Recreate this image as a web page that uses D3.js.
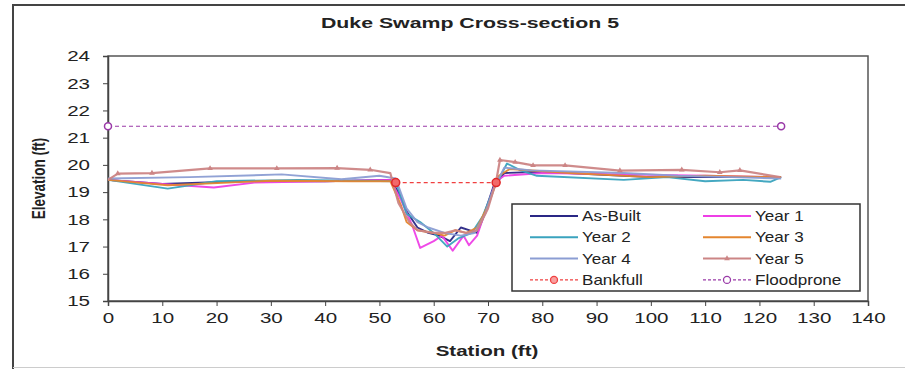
<!DOCTYPE html>
<html>
<head>
<meta charset="utf-8">
<script src="https://cdn.jsdelivr.net/npm/d3@7"></script>
<style>
  body { margin: 0; background: #fff; }
  svg { font-family: "Liberation Sans", Arial, sans-serif; }
</style>
</head>
<body>
<div id="chart"></div>
<script>
// Survey data (station ft, elevation ft)
const asBuilt = [[0,19.45],[10,19.3],[25,19.4],[40,19.4],[52,19.45],[53.5,19.0],[55,18.3],[57,17.7],[59,17.5],[61,17.4],[63,17.2],[65,17.7],[66.5,17.6],[68,17.5],[69,18.0],[71,19.2],[73,19.7],[80,19.75],[95,19.6],[100,19.55],[110,19.55],[124,19.55]];
const year1 = [[0,19.45],[10,19.3],[19.5,19.17],[27,19.35],[40,19.4],[52,19.45],[54,18.7],[56,17.8],[57.5,16.95],[60,17.2],[61.5,17.4],[63.5,16.85],[65.5,17.4],[66.5,17.05],[68,17.4],[69.5,18.3],[71.5,19.4],[73,19.6],[80,19.7],[95,19.65],[110,19.6],[124,19.55]];
const year2 = [[0,19.45],[11,19.13],[20,19.4],[35,19.45],[53,19.4],[55,18.2],[57.5,17.9],[60,17.5],[62.5,17.0],[64.5,17.3],[67,17.5],[69,18.1],[71,19.1],[73.5,20.05],[76,19.8],[79,19.6],[95,19.45],[103,19.55],[110,19.4],[117,19.45],[122,19.38],[124,19.55]];
const year3 = [[0,19.45],[11,19.25],[30,19.42],[45,19.4],[52,19.4],[54,18.5],[55,17.9],[57,17.6],[60,17.5],[62,17.4],[64,17.6],[66,17.5],[68,17.7],[70,18.5],[72,19.6],[74,19.85],[85,19.7],[100,19.55],[110,19.6],[124,19.55]];
const year4 = [[0,19.5],[15,19.55],[32,19.65],[43,19.47],[50,19.6],[53,19.5],[55,18.4],[57,17.9],[59,17.7],[62,17.5],[65,17.4],[67.5,17.5],[69.5,18.2],[71,19.1],[73,19.9],[78,19.8],[95,19.7],[105,19.6],[115,19.55],[124,19.5]];
const year5 = [[0,19.45],[1.8,19.68],[8.1,19.7],[18.8,19.87],[31.1,19.87],[42.2,19.88],[48.3,19.82],[52,19.7],[53.5,18.6],[55.5,17.9],[57,17.6],[60,17.5],[62,17.5],[64,17.6],[66,17.5],[68,17.6],[70,18.4],[71.5,19.4],[72.2,20.18],[75,20.1],[78.3,19.98],[84.2,19.98],[94.3,19.79],[105.7,19.82],[112.7,19.73],[116.4,19.8],[123.8,19.55]];
const bankfull = [[53,19.35],[71.5,19.35]];
const floodprone = [[0,21.42],[124,21.42]];

const xTicks = d3.range(0, 141, 10);
const yTicks = d3.range(15, 25, 1);

const seriesNames = ["As-Built","Year 1","Year 2","Year 3","Year 4","Year 5"];
const seriesData = [asBuilt, year1, year2, year3, year4, year5];
const seriesColors = ["#2a2785","#ee3fe6","#3aa3be","#e4862f","#8b9dd3","#cc8585"];

const width = 905, height = 369;
const margin = { left: 108, right: 37, top: 56, bottom: 68 };
const stretchX = 1.37; // the source picture is widened horizontally

// squeeze x position then widen glyphs so the anchor point stays put
const stretch = (sel, k) => sel.each(function () {
  const t = d3.select(this);
  const xv = +t.attr("x") || 0;
  t.attr("x", xv / k).attr("transform", `scale(${k},1)`);
});

const svg = d3.select("#chart").append("svg")
  .attr("width", width).attr("height", height);

// outer frame
svg.append("path")
  .attr("d", `M13,${height} L13,5 L${width},5`)
  .attr("fill", "none").attr("stroke", "#444").attr("stroke-width", 2);
svg.append("line")
  .attr("x1", 13).attr("x2", width).attr("y1", 367.5).attr("y2", 367.5)
  .attr("stroke", "#ccc").attr("stroke-width", 1);

const x = d3.scaleLinear().domain([0, 140]).range([margin.left, width - margin.right]);
const y = d3.scaleLinear().domain([15, 24]).range([height - margin.bottom, margin.top]);

// plot box
svg.append("rect")
  .attr("x", x(0)).attr("y", y(24))
  .attr("width", x(140) - x(0)).attr("height", y(15) - y(24))
  .attr("fill", "none").attr("stroke", "#555").attr("stroke-width", 1.5);

const xAxis = svg.append("g")
  .attr("transform", `translate(0,${y(15)})`)
  .call(d3.axisBottom(x).tickValues(xTicks).tickSize(5).tickPadding(6));
const yAxis = svg.append("g")
  .attr("transform", `translate(${x(0)},0)`)
  .call(d3.axisLeft(y).tickValues(yTicks).tickSize(5).tickPadding(13));
[xAxis, yAxis].forEach(a => {
  a.select(".domain").attr("stroke", "#444").attr("stroke-width", 1.5);
  a.selectAll(".tick line").attr("stroke", "#444");
  a.selectAll("text").attr("font-size", 15).attr("fill", "#222")
    .attr("font-family", "Liberation Sans, Arial, sans-serif")
    .call(stretch, stretchX);
});

// titles
svg.append("text").attr("x", 470).attr("y", 28).attr("text-anchor", "middle")
  .attr("font-size", 15).attr("font-weight", "bold").attr("fill", "#222")
  .text("Duke Swamp Cross-section 5").call(stretch, 1.42);
svg.append("text").attr("x", 487).attr("y", 356).attr("text-anchor", "middle")
  .attr("font-size", 15).attr("font-weight", "bold").attr("fill", "#222")
  .text("Station (ft)").call(stretch, stretchX);
svg.append("text")
  .attr("transform", `translate(45,${(y(15) + y(24)) / 2}) rotate(-90) scale(1,${stretchX})`)
  .attr("text-anchor", "middle")
  .attr("font-size", 13.5).attr("font-weight", "bold").attr("fill", "#222")
  .text("Elevation (ft)");

const line = d3.line().x(d => x(d[0])).y(d => y(d[1]));

// floodprone
svg.append("path").datum(floodprone).attr("d", line)
  .attr("fill", "none").attr("stroke", "#9a3aa8").attr("stroke-width", 1.2)
  .attr("stroke-dasharray", "4,3");
svg.selectAll(".fp").data(floodprone).enter().append("circle")
  .attr("cx", d => x(d[0])).attr("cy", d => y(d[1])).attr("r", 3.5)
  .attr("fill", "#fff").attr("stroke", "#9a3aa8").attr("stroke-width", 1.5);

// survey lines
seriesData.forEach((data, i) => {
  svg.append("path").datum(data).attr("d", line)
    .attr("fill", "none").attr("stroke", seriesColors[i])
    .attr("stroke-width", i === 5 ? 2.2 : 1.9)
    .attr("stroke-linejoin", "round").attr("opacity", 0.95);
});
svg.selectAll(".y5m").data(year5.filter((d, i) => i > 0 && i < year5.length - 1 && (d[0] < 52 || d[0] > 72)))
  .enter().append("path")
  .attr("d", d3.symbol(d3.symbolTriangle, 14))
  .attr("transform", d => `translate(${x(d[0])},${y(d[1])})`)
  .attr("fill", "#cc8585");

// bankfull
svg.append("path").datum(bankfull).attr("d", line)
  .attr("fill", "none").attr("stroke", "#f04040").attr("stroke-width", 1.3)
  .attr("stroke-dasharray", "4,3");
svg.selectAll(".bf").data(bankfull).enter().append("circle")
  .attr("cx", d => x(d[0])).attr("cy", d => y(d[1])).attr("r", 4)
  .attr("fill", "#f26a6a").attr("stroke", "#e02828").attr("stroke-width", 1.5);

// legend
const legend = svg.append("g");
legend.append("rect").attr("x", 512).attr("y", 204).attr("width", 348).attr("height", 87)
  .attr("fill", "#fff").attr("stroke", "#333").attr("stroke-width", 1.5);
const legendItems = seriesNames.map((n, i) => ({ name: n, color: seriesColors[i], type: "line" }))
  .concat([{ name: "Bankfull", color: "#f04040", type: "bf" },
           { name: "Floodprone", color: "#9a3aa8", type: "fp" }]);
legendItems.forEach((item, i) => {
  const col = i % 2, row = Math.floor(i / 2);
  const lx = col === 0 ? 530 : 703;
  const ly = 216 + row * 21.3;
  const g = legend.append("g");
  g.append("line").attr("x1", lx).attr("x2", lx + 48).attr("y1", ly).attr("y2", ly)
    .attr("stroke", item.color).attr("stroke-width", item.type === "line" ? 2 : 1.3)
    .attr("stroke-dasharray", item.type === "line" ? null : "3,2");
  if (item.type !== "line") {
    g.append("circle").attr("cx", lx + 24).attr("cy", ly).attr("r", 3.5)
      .attr("fill", item.type === "bf" ? "#f8a0a0" : "#fff")
      .attr("stroke", item.color).attr("stroke-width", 1.3);
  }
  if (item.name === "Year 5") {
    g.append("path").attr("d", d3.symbol(d3.symbolTriangle, 14))
      .attr("transform", `translate(${lx + 24},${ly})`).attr("fill", item.color);
  }
  g.append("text").attr("x", lx + 52).attr("y", ly + 5)
    .attr("font-size", 14).attr("fill", "#222").text(item.name)
    .call(stretch, 1.22);
});
</script>
</body>
</html>
